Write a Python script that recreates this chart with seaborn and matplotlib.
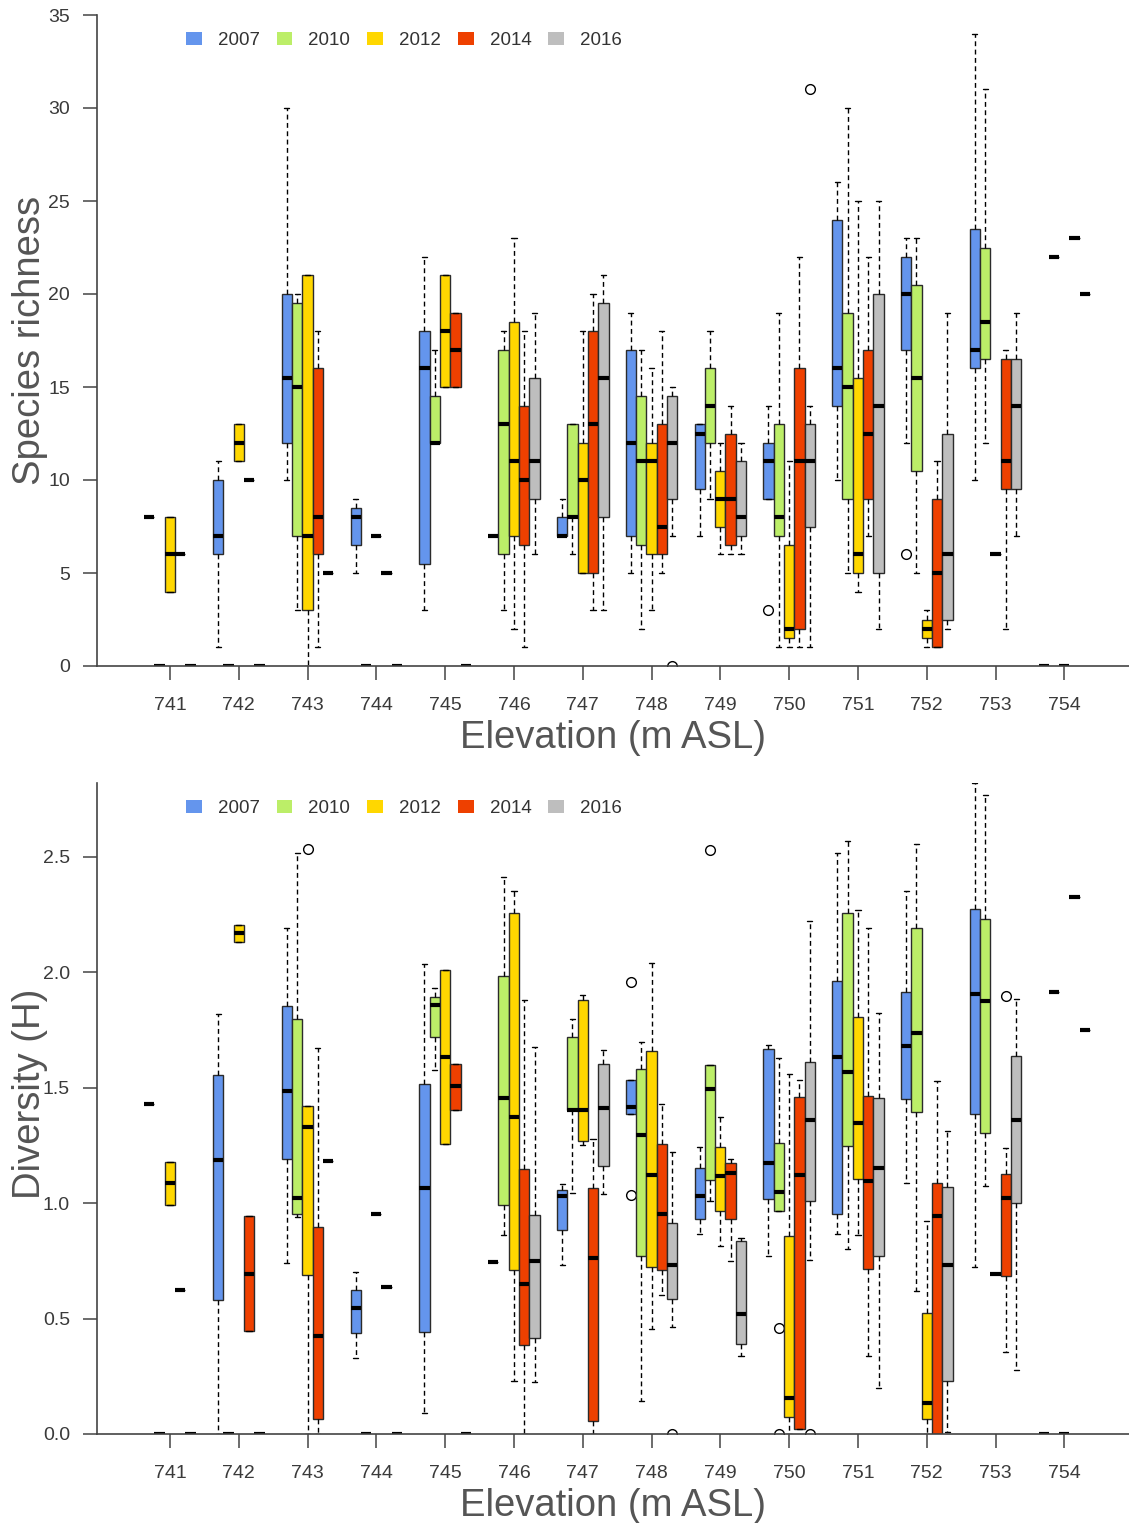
import numpy as np
import pandas as pd
import matplotlib
matplotlib.use("Agg")
import matplotlib.pyplot as plt
from matplotlib.patches import Patch
import seaborn as sns

# ---------------------------------------------------------------------------
# Data: per-year box summaries (min whisker, Q1, median, Q3, max whisker)
# for each elevation; a single number means every plot had that value.
# ---------------------------------------------------------------------------
elevations = ["741", "742", "743", "744", "745", "746", "747",
              "748", "749", "750", "751", "752", "753", "754"]
years = ["2007", "2010", "2012", "2014", "2016"]
year_colors = ["#6495ED", "#BCEE68", "#FFD700", "#EE4000", "#BEBEBE"]

rich_2007 = [8, (1, 6, 7, 10, 11), (10, 12, 15.5, 20, 30), (5, 6.5, 8, 8.5, 9),
             (3, 5.5, 16, 18, 22), 7, (7, 7, 7, 8, 9), (5, 7, 12, 17, 19),
             (7, 9.5, 12.5, 13, 13), (9, 9, 11, 12, 14), (10, 14, 16, 24, 26),
             (12, 17, 20, 22, 23), (10, 16, 17, 23.5, 34), 0]
rich_2010 = [0, 0, (3, 7, 15, 19.5, 20), 0, (12, 12, 12, 14.5, 17),
             (3, 6, 13, 17, 18), (6, 8, 8, 13, 13), (2, 6.5, 11, 14.5, 17),
             (9, 12, 14, 16, 18), (1, 7, 8, 13, 19), (5, 9, 15, 19, 30),
             (5, 10.5, 15.5, 20.5, 23), (12, 16.5, 18.5, 22.5, 31), 22]
rich_2012 = [(4, 4, 6, 8, 8), (11, 11, 12, 13, 13), (0, 3, 7, 21, 21), 7,
             (15, 15, 18, 21, 21), (2, 7, 11, 18.5, 23), (5, 5, 10, 12, 18),
             (3, 6, 11, 12, 16), (6, 7.5, 9, 10.5, 12), (1, 1.5, 2, 6.5, 11),
             (4, 5, 6, 15.5, 25), (1, 1.5, 2, 2.5, 3), 6, 0]
rich_2014 = [6, 10, (1, 6, 8, 16, 18), 5, (15, 15, 17, 19, 19),
             (1, 6.5, 10, 14, 18), (3, 5, 13, 18, 20), (5, 6, 7.5, 13, 18),
             (6, 6.5, 9, 12.5, 14), (1, 2, 11, 16, 22), (7, 9, 12.5, 17, 22),
             (1, 1, 5, 9, 11), (2, 9.5, 11, 16.5, 17), 23]
rich_2016 = [0, 0, 5, 0, 0, (6, 9, 11, 15.5, 19), (3, 8, 15.5, 19.5, 21),
             (7, 9, 12, 14.5, 15), (6, 7, 8, 11, 12), (1, 7.5, 11, 13, 14),
             (2, 5, 14, 20, 25), (2, 2.5, 6, 12.5, 19), (7, 9.5, 14, 16.5, 19), 20]
rich_outliers = {("748", "2016"): [0], ("750", "2007"): [3],
                 ("750", "2016"): [31], ("752", "2007"): [6]}

div_2007 = [1.43, (0, 0.58, 1.186, 1.556, 1.82), (0.74, 1.19, 1.486, 1.856, 2.19),
            (0.33, 0.438, 0.544, 0.622, 0.70), (0.09, 0.44, 1.066, 1.516, 2.036),
            0.746, (0.734, 0.884, 1.032, 1.058, 1.084),
            (1.388, 1.388, 1.418, 1.534, 1.534), (0.866, 0.932, 1.032, 1.154, 1.244),
            (0.77, 1.02, 1.174, 1.666, 1.684), (0.866, 0.954, 1.632, 1.964, 2.516),
            (1.086, 1.45, 1.68, 1.916, 2.354), (0.724, 1.386, 1.908, 2.274, 2.818), 0]
div_2010 = [0, 0, (0.94, 0.954, 1.024, 1.798, 2.518), 0,
            (1.576, 1.718, 1.86, 1.894, 1.93), (0.864, 0.994, 1.454, 1.986, 2.414),
            (1.042, 1.402, 1.402, 1.72, 1.798), (0.142, 0.77, 1.296, 1.58, 1.696),
            (1.008, 1.1, 1.494, 1.6, 1.6), (0.966, 0.966, 1.048, 1.26, 1.628),
            (0.8, 1.248, 1.57, 2.258, 2.57), (0.62, 1.396, 1.736, 2.19, 2.556),
            (1.074, 1.304, 1.876, 2.23, 2.768), 1.916]
div_2012 = [(0.99, 0.99, 1.086, 1.18, 1.18), (2.13, 2.13, 2.17, 2.206, 2.206),
            (0, 0.69, 1.33, 1.42, 1.42), 0.954, (1.256, 1.256, 1.634, 2.012, 2.012),
            (0.23, 0.71, 1.374, 2.256, 2.354), (1.254, 1.27, 1.402, 1.878, 1.9),
            (0.456, 0.724, 1.124, 1.66, 2.042), (0.814, 0.966, 1.118, 1.244, 1.374),
            (0, 0.074, 0.154, 0.856, 1.56), (0.86, 1.104, 1.346, 1.808, 2.272),
            (0, 0.066, 0.134, 0.526, 0.922), 0.694, 0]
div_2014 = [0.624, (0.446, 0.446, 0.694, 0.944, 0.944), (0, 0.066, 0.426, 0.898, 1.67),
            0.636, (1.402, 1.402, 1.506, 1.604, 1.604), (0, 0.386, 0.65, 1.15, 1.878),
            (0, 0.056, 0.762, 1.066, 1.28), (0.6, 0.71, 0.952, 1.256, 1.43),
            (0.75, 0.932, 1.132, 1.172, 1.192), (0.02, 0.02, 1.122, 1.458, 1.534),
            (0.336, 0.714, 1.094, 1.464, 2.19), (0, 0, 0.946, 1.086, 1.53),
            (0.354, 0.684, 1.024, 1.128, 1.24), 2.328]
div_2016 = [0, 0, 1.184, 0, 0, (0.224, 0.418, 0.748, 0.948, 1.678),
            (1.038, 1.162, 1.412, 1.602, 1.664), (0.464, 0.586, 0.734, 0.912, 1.222),
            (0.336, 0.39, 0.52, 0.834, 0.85), (0.754, 1.008, 1.362, 1.61, 2.224),
            (0.2, 0.77, 1.152, 1.454, 1.824), (0.01, 0.23, 0.73, 1.07, 1.314),
            (0.276, 1.002, 1.36, 1.636, 1.886), 1.748]
div_outliers = {("743", "2012"): [2.535], ("748", "2007"): [1.036, 1.956],
                ("748", "2016"): [0], ("749", "2010"): [2.53],
                ("750", "2010"): [0, 0.46], ("750", "2016"): [0],
                ("753", "2014"): [1.896]}


def plot_values(summary, extra):
    """Nine plot values whose quartiles and whisker ends equal the summary."""
    if np.isscalar(summary):
        summary = (summary,) * 5
    lo, q1, med, q3, hi = summary
    low = sorted(v for v in extra if v < q1)
    high = sorted(v for v in extra if v > q3)
    tail_lo = low + [lo] * (2 - len(low))
    tail_hi = [hi] * (2 - len(high)) + high
    return tail_lo + [q1, q1, med, q3, q3] + tail_hi


def build_frame(series, outliers):
    rows = []
    for year, summaries in zip(years, series):
        for elev, summ in zip(elevations, summaries):
            for v in plot_values(summ, outliers.get((elev, year), [])):
                rows.append({"elevation": elev, "year": year, "value": v})
    return pd.DataFrame(rows)


richness = build_frame([rich_2007, rich_2010, rich_2012, rich_2014, rich_2016],
                       rich_outliers)
diversity = build_frame([div_2007, div_2010, div_2012, div_2014, div_2016],
                        div_outliers)

# ---------------------------------------------------------------------------
sns.set_theme(style="ticks")
plt.rcParams["font.family"] = ["Liberation Sans", "DejaVu Sans"]

W, H = 1129, 1523
fig = plt.figure(figsize=(W / 100, H / 100), dpi=100)


def px_axes(left, top, right, bottom):
    return fig.add_axes([left / W, 1 - bottom / H, (right - left) / W, (bottom - top) / H])


ax_top = px_axes(97, 15, 1129, 666)
ax_bot = px_axes(97, 783, 1129, 1434)

tick_color = "#3a3a3a"
label_color = "#555555"

box_kws = dict(
    x="elevation", y="value", hue="year", order=elevations, hue_order=years,
    palette=year_colors, saturation=1, width=0.75, gap=0, dodge=True, whis=1.5,
    linecolor="#2b2b2b", linewidth=1.0, fliersize=7, legend=False,
    medianprops=dict(color="black", linewidth=3, solid_capstyle="butt"),
    whiskerprops=dict(linestyle=(0, (3.5, 2.5)), linewidth=1, color="black"),
    capprops=dict(linewidth=1, color="black"),
    flierprops=dict(marker="o", markerfacecolor="none", markeredgecolor="black",
                    markeredgewidth=1),
)

panels = [
    (ax_top, richness, "Species richness", 0.5, (0, 35), np.arange(0, 36, 5), "{:.0f}"),
    (ax_bot, diversity, "Diversity (H)", 0.522, (0, 2.82), np.arange(0, 2.51, 0.5), "{:.1f}"),
]

for ax, df, ylabel, ylab_y, ylim, yticks, fmt in panels:
    sns.boxplot(data=df, ax=ax, **box_kws)
    ax.set_xlim(-1.06, 13.94)
    ax.set_ylim(*ylim)
    ax.set_yticks(yticks)
    ax.set_yticklabels([fmt.format(t) for t in yticks])
    sns.despine(ax=ax)
    for side in ("left", "bottom"):
        ax.spines[side].set_color("#444444")
        ax.spines[side].set_linewidth(1.2)
    ax.tick_params(axis="both", length=10, width=1.1, color="#444444",
                   labelsize=14, labelcolor=tick_color)
    ax.tick_params(axis="x", pad=12.5)
    ax.tick_params(axis="y", pad=9.5)
    ax.set_xlabel("Elevation (m ASL)", fontsize=27.5, color=label_color)
    ax.set_ylabel(ylabel, fontsize=27.5, color=label_color)
    ax.xaxis.set_label_coords(0.5, -0.083)
    ax.yaxis.set_label_coords(-0.047, ylab_y)

    handles = [Patch(facecolor=c, edgecolor="none") for c in year_colors]
    ax.legend(handles, years, loc="center left", bbox_to_anchor=(0.086, 0.961),
              ncol=5, frameon=False, fontsize=13.5, handlelength=0.85,
              handleheight=0.65, handletextpad=0.85, columnspacing=0.9,
              borderpad=0, borderaxespad=0, labelcolor="#333333")

fig.savefig("out.png", dpi=100)
